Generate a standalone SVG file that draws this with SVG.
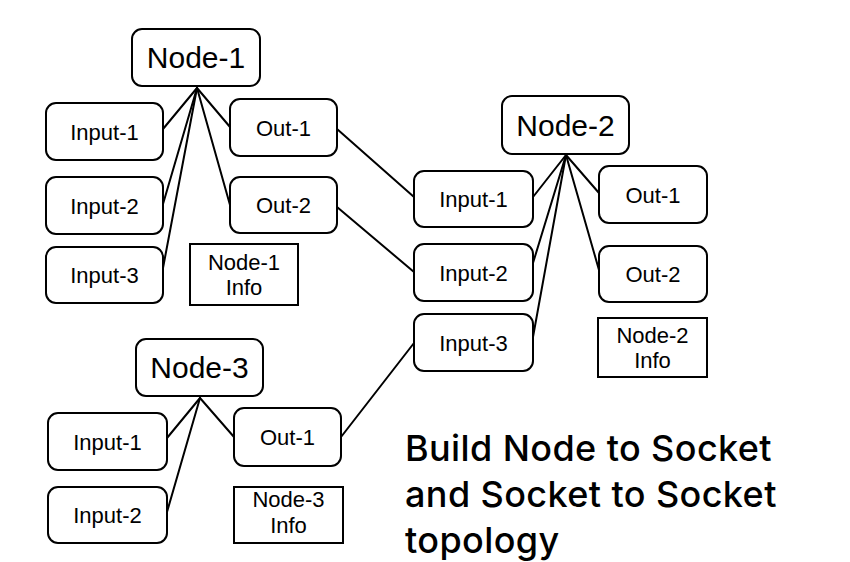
<svg xmlns="http://www.w3.org/2000/svg" width="850" height="562" viewBox="0 0 850 562">
<style>
.b{fill:#fff;stroke:#000;stroke-width:2}
.i{fill:#fff;stroke:#000;stroke-width:2}
.c{fill:none;stroke:#000;stroke-width:2;stroke-linecap:round}
text{font-family:"Liberation Sans",Arial,sans-serif;fill:#000;text-anchor:middle}
.n{font-size:30px}
.s{font-size:22px}
.t{font-family:Inter,"Liberation Sans",sans-serif;font-size:36px;font-weight:500;letter-spacing:0.4px;text-anchor:start}
</style>
<rect width="850" height="562" fill="#fff"/>
<g id="connectors">
<line class="c" x1="197" y1="88" x2="163" y2="129"/>
<line class="c" x1="197" y1="88" x2="163" y2="204"/>
<line class="c" x1="197" y1="88" x2="163" y2="268"/>
<line class="c" x1="197" y1="88" x2="230" y2="127"/>
<line class="c" x1="197" y1="88" x2="230" y2="205"/>
<line class="c" x1="337" y1="129" x2="414" y2="197"/>
<line class="c" x1="337" y1="207" x2="414" y2="272"/>
<line class="c" x1="566" y1="155" x2="533" y2="197"/>
<line class="c" x1="566" y1="155" x2="533" y2="263"/>
<line class="c" x1="566" y1="155" x2="533" y2="337"/>
<line class="c" x1="566" y1="155" x2="599" y2="193"/>
<line class="c" x1="566" y1="155" x2="599" y2="270"/>
<line class="c" x1="200" y1="398" x2="167" y2="438"/>
<line class="c" x1="200" y1="398" x2="167" y2="512"/>
<line class="c" x1="200" y1="398" x2="234" y2="437"/>
<line class="c" x1="341" y1="437" x2="414" y2="343"/>
</g>
<g id="node1">
<rect class="b" x="132" y="29" width="128" height="57" rx="10"/>
<text class="n" x="196" y="68">Node-1</text>
</g>
<g id="node1-input1"><rect class="b" x="46" y="103" width="117" height="57" rx="10"/><text class="s" x="104.5" y="139.5">Input-1</text></g>
<g id="node1-input2"><rect class="b" x="46" y="177" width="117" height="57" rx="10"/><text class="s" x="104.5" y="213.5">Input-2</text></g>
<g id="node1-input3"><rect class="b" x="46" y="247" width="117" height="56" rx="10"/><text class="s" x="104.5" y="283">Input-3</text></g>
<g id="node1-out1"><rect class="b" x="230" y="99" width="107" height="57" rx="10"/><text class="s" x="283.5" y="135.5">Out-1</text></g>
<g id="node1-out2"><rect class="b" x="230" y="177" width="107" height="56" rx="10"/><text class="s" x="283.5" y="213">Out-2</text></g>
<g id="node1-info"><rect class="i" x="190" y="244" width="108" height="61"/><text class="s" x="244" y="270">Node-1</text><text class="s" x="244" y="295">Info</text></g>
<g id="node2">
<rect class="b" x="502" y="96" width="127" height="58" rx="10"/>
<text class="n" x="565.5" y="135.5">Node-2</text>
</g>
<g id="node2-input1"><rect class="b" x="414" y="171" width="119" height="56" rx="10"/><text class="s" x="473.5" y="207">Input-1</text></g>
<g id="node2-input2"><rect class="b" x="414" y="244" width="119" height="57" rx="10"/><text class="s" x="473.5" y="280.5">Input-2</text></g>
<g id="node2-input3"><rect class="b" x="414" y="314" width="119" height="57" rx="10"/><text class="s" x="473.5" y="350.5">Input-3</text></g>
<g id="node2-out1"><rect class="b" x="599" y="166" width="108" height="57" rx="10"/><text class="s" x="653" y="202.5">Out-1</text></g>
<g id="node2-out2"><rect class="b" x="599" y="246" width="108" height="56" rx="10"/><text class="s" x="653" y="282">Out-2</text></g>
<g id="node2-info"><rect class="i" x="598" y="318" width="109" height="59"/><text class="s" x="652.5" y="343">Node-2</text><text class="s" x="652.5" y="368">Info</text></g>
<g id="node3">
<rect class="b" x="136" y="339" width="127" height="57" rx="10"/>
<text class="n" x="199.5" y="378">Node-3</text>
</g>
<g id="node3-input1"><rect class="b" x="48" y="413" width="119" height="57" rx="10"/><text class="s" x="107.5" y="449.5">Input-1</text></g>
<g id="node3-input2"><rect class="b" x="48" y="487" width="119" height="56" rx="10"/><text class="s" x="107.5" y="523">Input-2</text></g>
<g id="node3-out1"><rect class="b" x="234" y="408" width="107" height="58" rx="10"/><text class="s" x="287.5" y="445">Out-1</text></g>
<g id="node3-info"><rect class="i" x="234" y="487" width="109" height="56"/><text class="s" x="288.5" y="507">Node-3</text><text class="s" x="288.5" y="533">Info</text></g>
<g id="caption">
<text class="t" x="405" y="461">Build Node to Socket</text>
<text class="t" x="405" y="507">and Socket to Socket</text>
<text class="t" x="405" y="553">topology</text>
</g>
</svg>
